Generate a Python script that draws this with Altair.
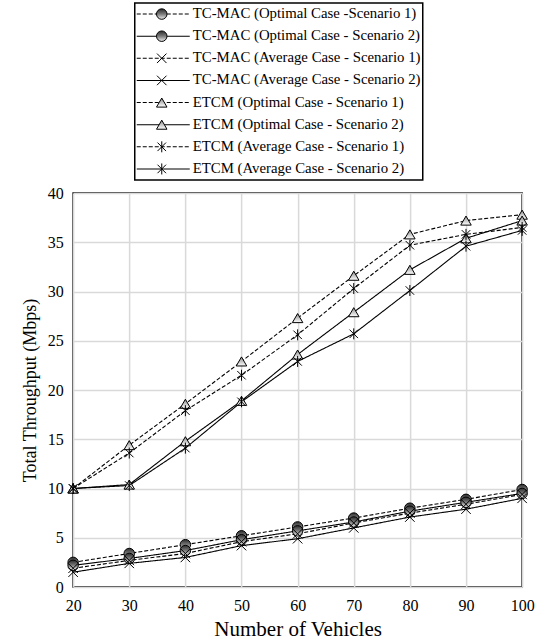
import altair as alt
import pandas as pd

vehicles = [20, 30, 40, 50, 60, 70, 80, 90, 100]

series_names = [
    "TC-MAC (Optimal Case -Scenario 1)",
    "TC-MAC (Optimal Case - Scenario 2)",
    "TC-MAC (Average Case - Scenario 1)",
    "TC-MAC (Average Case - Scenario 2)",
    "ETCM (Optimal Case - Scenario 1)",
    "ETCM (Optimal Case - Scenario 2)",
    "ETCM (Average Case - Scenario 1)",
    "ETCM (Average Case - Scenario 2)",
]

tc_opt_s1 = [2.5, 3.4, 4.3, 5.2, 6.1, 7.0, 8.0, 8.9, 9.9]
tc_opt_s2 = [2.2, 2.9, 3.7, 4.8, 5.7, 6.6, 7.7, 8.6, 9.5]
tc_avg_s1 = [1.9, 2.7, 3.4, 4.6, 5.4, 6.5, 7.5, 8.4, 9.4]
tc_avg_s2 = [1.5, 2.4, 3.0, 4.2, 4.9, 6.0, 7.1, 7.9, 9.0]
etcm_opt_s1 = [10.0, 14.4, 18.6, 22.9, 27.3, 31.6, 35.8, 37.2, 37.8]
etcm_opt_s2 = [10.0, 10.4, 14.8, 18.9, 23.6, 27.9, 32.2, 35.4, 37.2]
etcm_avg_s1 = [10.0, 13.6, 17.9, 21.5, 25.6, 30.3, 34.7, 35.8, 36.5]
etcm_avg_s2 = [10.0, 10.3, 14.1, 18.8, 22.9, 25.7, 30.1, 34.6, 36.2]

all_values = [tc_opt_s1, tc_opt_s2, tc_avg_s1, tc_avg_s2,
              etcm_opt_s1, etcm_opt_s2, etcm_avg_s1, etcm_avg_s2]

rows = []
for name, vals in zip(series_names, all_values):
    for v, t in zip(vehicles, vals):
        rows.append({"series": name, "vehicles": v, "throughput": t})
df = pd.DataFrame(rows)
leg_df = pd.DataFrame({"series": series_names})
box_df = pd.DataFrame({"box": [0]})

FONT = "Liberation Serif"
DASH = [4, 2]
dash_range = [DASH, [1, 0], DASH, [1, 0], DASH, [1, 0], DASH, [1, 0]]

circle_fill = alt.LinearGradient(
    gradient="linear",
    stops=[alt.GradientStop(offset=0, color="#2a2a2a"),
           alt.GradientStop(offset=0.5, color="#7a7a7a"),
           alt.GradientStop(offset=1, color="#f0f0f0")],
    x1=0, x2=0, y1=0, y2=1)
tri_fill = alt.LinearGradient(
    gradient="linear",
    stops=[alt.GradientStop(offset=0, color="#8a8a8a"),
           alt.GradientStop(offset=1, color="#ffffff")],
    x1=0, x2=0, y1=0, y2=1)
X_PATH = "M-1,-1L1,1M-1,1L1,-1"
STAR_PATH = "M-0.85,-0.85L0.85,0.85M-0.85,0.85L0.85,-0.85M0,-1.1L0,1.1"

groups = [
    (series_names[0:2], dict(shape="circle", size=110, fill=circle_fill)),
    (series_names[2:4], dict(shape=X_PATH, size=90, fill="transparent")),
    (series_names[4:6], dict(shape="triangle-up", size=110, fill=tri_fill)),
    (series_names[6:8], dict(shape=STAR_PATH, size=100, fill="transparent")),
]

dash_enc = alt.StrokeDash("series:N",
                          scale=alt.Scale(domain=series_names, range=dash_range),
                          legend=None)

# ---------- main plot ----------
xenc = alt.X("vehicles:Q",
             scale=alt.Scale(domain=[20, 100], nice=False),
             axis=alt.Axis(values=vehicles, title="Number of Vehicles",
                           titleFontSize=21, labelFlush=False))
yenc = alt.Y("throughput:Q",
             scale=alt.Scale(domain=[0, 40], nice=False),
             axis=alt.Axis(values=[0, 5, 10, 15, 20, 25, 30, 35, 40],
                           title="Total Throughput (Mbps)",
                           titleFontSize=18, labelFlush=False))

lines = alt.Chart(df).mark_line(color="black", strokeWidth=1.1).encode(
    x=xenc, y=yenc, detail="series:N", strokeDash=dash_enc)

layers = [lines]
for names, style in groups:
    layers.append(
        alt.Chart(df)
        .transform_filter(alt.FieldOneOfPredicate(field="series", oneOf=names))
        .mark_point(shape=style["shape"], size=style["size"], filled=True,
                    fill=style["fill"], stroke="black", strokeWidth=1,
                    opacity=1, fillOpacity=1)
        .encode(x=xenc, y=yenc)
    )
main = alt.layer(*layers).properties(
    width=449, height=394,
    view=alt.ViewBackground(stroke="black", strokeWidth=1.5))

# ---------- legend ----------
ly = alt.Y("series:N",
           scale=alt.Scale(domain=series_names, type="point", padding=0.5),
           axis=None)
leg_layers = [
    alt.Chart(box_df).mark_rect(fill="transparent", stroke="black",
                                strokeWidth=1.5).encode(
        x=alt.value(0), x2=alt.value(288), y=alt.value(0), y2=alt.value(177)),
    alt.Chart(leg_df).mark_rule(color="black", strokeWidth=1.1).encode(
        x=alt.value(2), x2=alt.value(55), y=ly, strokeDash=dash_enc),
]
for names, style in groups:
    leg_layers.append(
        alt.Chart(leg_df)
        .transform_filter(alt.FieldOneOfPredicate(field="series", oneOf=names))
        .mark_point(shape=style["shape"], size=style["size"], filled=True,
                    fill=style["fill"], stroke="black", strokeWidth=1,
                    opacity=1, fillOpacity=1)
        .encode(x=alt.value(27), y=ly)
    )
leg_layers.append(
    alt.Chart(leg_df).mark_text(align="left", baseline="middle", font=FONT,
                                fontSize=14.8, color="black").encode(
        x=alt.value(58), y=ly, text="series:N")
)
legend = alt.layer(*leg_layers).properties(
    width=338, height=177,
    view=alt.ViewBackground(stroke="transparent"))

chart = (
    alt.vconcat(legend, main, spacing=2, center=True)
    .properties(padding={"left": 20, "right": 5, "top": 1, "bottom": 0},
                background="white")
    .configure_view(stroke="transparent")
    .configure_axis(
        labelFont=FONT, labelFontSize=16, labelColor="black",
        titleFont=FONT, titleFontWeight="normal",
        titleColor="black",
        domain=False, ticks=False,
        grid=True, gridColor="#d9d9d9", gridWidth=1.5,
        labelPadding=10)
    .configure_axisY(titlePadding=8)
    .configure_axisX(titlePadding=5)
)

chart.save("out.html", embed_options={"renderer": "svg", "actions": False})
